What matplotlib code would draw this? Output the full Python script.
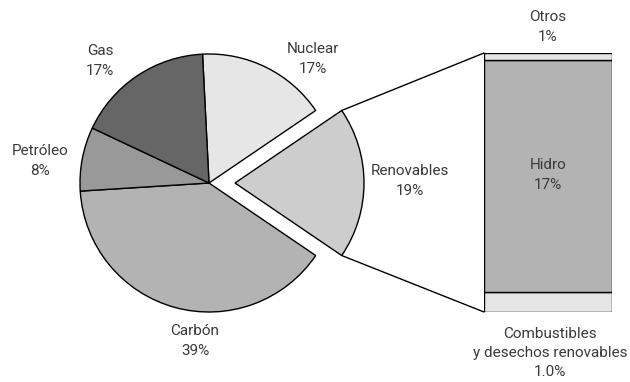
import numpy as np
import matplotlib
matplotlib.use("Agg")
import matplotlib.pyplot as plt
from matplotlib.patches import ConnectionPatch

# Data
pie_labels = ["Nuclear", "Renovables", "Carbón", "Petróleo", "Gas"]
pie_values = [16.3, 19.0, 39.5, 8.0, 17.2]
pie_pct_text = ["17%", "19%", "39%", "8%", "17%"]
pie_colors = ["#e6e6e6", "#cdcdcd", "#b3b3b3", "#999999", "#666666"]

bar_labels = ["Combustibles\ny desechos renovables", "Hidro", "Otros"]
bar_values = [1.5, 17.0, 0.5]
bar_pct_text = ["1.0%", "17%", "1%"]
bar_colors = ["#e6e6e6", "#b3b3b3", "#e6e6e6"]

plt.rcParams['font.family'] = ['Roboto', 'DejaVu Sans']
TXT = "#3a3a3a"
FS = 11
LS = 1.5

W, H = 630, 382
fig = plt.figure(figsize=(W / 100, H / 100), dpi=100)
ax = fig.add_axes([0, 0, 1, 1])

cx, cy, R = 209, H - 183, 129
tot = sum(pie_values)
ren_half = pie_values[1] / tot * 360 / 2
start = ren_half + pie_values[0] / tot * 360
explode = [0, 26, 0, 0, 0]
wedges, _ = ax.pie(pie_values, colors=pie_colors, startangle=start, counterclock=False,
                   center=(cx, cy), radius=R, explode=explode,
                   wedgeprops=dict(edgecolor='black', linewidth=1.0), frame=True)
ax.set_xlim(0, W)
ax.set_ylim(0, H)
ax.set_aspect('equal')
ax.axis('off')
ax.set_zorder(2)

label_pos = {"Nuclear": (313, 59), "Renovables": (410, 181), "Carbón": (195, 341),
             "Petróleo": (40, 161), "Gas": (100, 61)}
for lab, pct in zip(pie_labels, pie_pct_text):
    x, y = label_pos[lab]
    ax.text(x, H - y, f"{lab}\n{pct}", ha='center', va='center', fontsize=FS,
            color=TXT, linespacing=LS)

# Bar of pie
bx0, bx1, by_top, by_bot = 484, 612, 53, 312
ax2 = fig.add_axes([bx0 / W, (H - by_bot) / H, (bx1 - bx0) / W, (by_bot - by_top) / H])
ax2.set_zorder(1)
total = sum(bar_values)
bottom = 0
for v, c in zip(bar_values, bar_colors):
    ax2.bar(0, v, bottom=bottom, width=1.0, color=c, edgecolor='black', linewidth=1.0)
    bottom += v
ax2.set_xlim(-0.5, 0.5)
ax2.set_ylim(0, total)
ax2.axis('off')

bar_label_pos = {"Otros": (548, 27), "Hidro": (548, 175),
                 "Combustibles\ny desechos renovables": (550, 353)}
for lab, pct in zip(bar_labels, bar_pct_text):
    x, y = bar_label_pos[lab]
    ax.text(x, H - y, f"{lab}\n{pct}", ha='center', va='center', fontsize=FS,
            color=TXT, linespacing=LS)

# Connection lines
w = wedges[1]
t1, t2 = np.deg2rad(w.theta1), np.deg2rad(w.theta2)
wcx, wcy = w.center
r = w.r
top_pt = (wcx + r * np.cos(t2), wcy + r * np.sin(t2))
bot_pt = (wcx + r * np.cos(t1), wcy + r * np.sin(t1))
for pt, yb in [(top_pt, total), (bot_pt, 0)]:
    con = ConnectionPatch(xyA=(-0.5, yb), coordsA=ax2.transData,
                          xyB=pt, coordsB=ax.transData, color='black', linewidth=1.0)
    fig.add_artist(con)

fig.savefig("out.png", dpi=100)
